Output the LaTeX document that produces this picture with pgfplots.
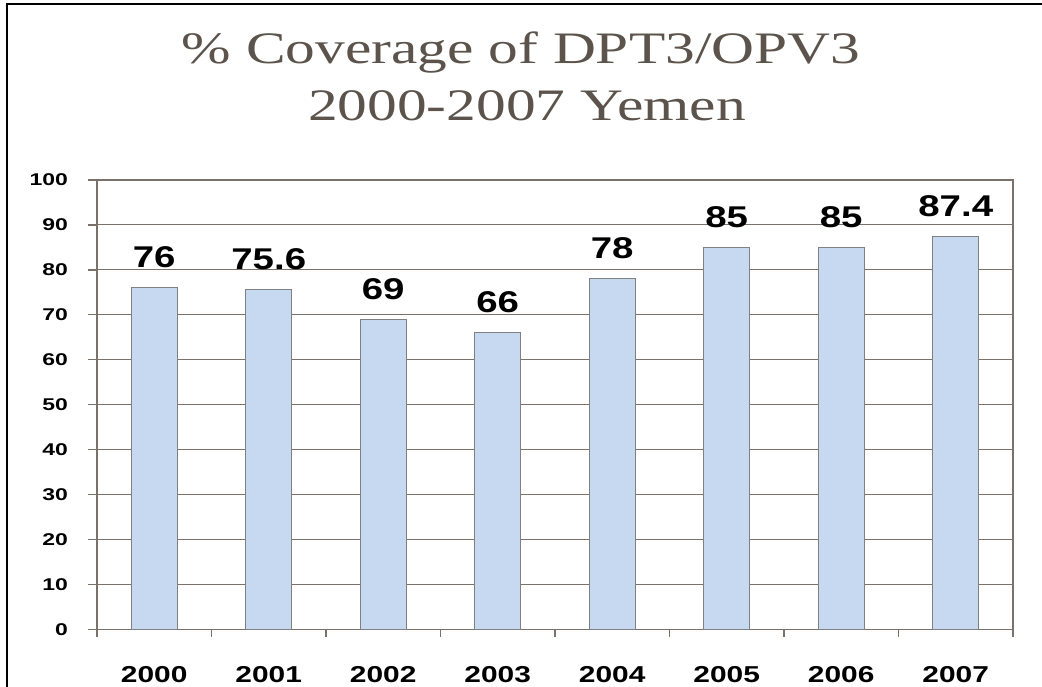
\documentclass[border=0pt]{standalone}
\usepackage{graphicx}
\usepackage{pgfplots}
\pgfplotsset{compat=1.18}
\usepackage{fontspec}
\setmainfont{Liberation Sans}
\newfontfamily\titlefont{Liberation Serif}
\definecolor{titlec}{RGB}{92,84,76}
\definecolor{gridc}{RGB}{122,114,106}
\definecolor{barfill}{RGB}{198,217,240}
\definecolor{barline}{RGB}{128,128,128}

\begin{document}
\begin{tikzpicture}
\useasboundingbox (0pt,0pt) rectangle (1042pt,-686pt);
\fill[white] (0pt,0pt) rectangle (1042pt,-686pt);
\draw[line width=2.5pt] (7pt,-700pt) -- (7pt,-4pt) -- (1050pt,-4pt);
\node[font=\titlefont\fontsize{45}{50}\selectfont, text=titlec, anchor=base] at (521pt,-63pt) {\scalebox{1.32}[1]{\% Coverage of DPT3/OPV3}};
\node[font=\titlefont\fontsize{45}{50}\selectfont, text=titlec, anchor=base] at (527pt,-120pt) {\scalebox{1.32}[1]{2000-2007 Yemen}};
\begin{axis}[
  at={(97pt,-629.5pt)}, anchor=south west,
  scale only axis, width=916pt, height=449.5pt,
  xmin=-0.5, xmax=7.5, ymin=0, ymax=100,
  ytick={0,10,...,100},
  xtick={0,...,7},
  xticklabels={\scalebox{1.3}[1]{2000},\scalebox{1.3}[1]{2001},\scalebox{1.3}[1]{2002},\scalebox{1.3}[1]{2003},\scalebox{1.3}[1]{2004},\scalebox{1.3}[1]{2005},\scalebox{1.3}[1]{2006},\scalebox{1.3}[1]{2007}},
  minor xtick={-0.5,0.5,...,7.5},
  major x tick style={draw=none},
  xtick pos=left, ytick pos=left,
  tick align=outside,
  major tick length=9pt, minor tick length=7pt,
  ymajorgrids,
  grid style={gridc, line width=1pt},
  axis line style={gridc, line width=1.2pt},
  tick style={gridc, line width=1.2pt},
  /pgf/number format/assume math mode=true,
  yticklabel={\scalebox{1.35}[1]{\pgfmathprintnumber{\tick}}},
  yticklabel style={font=\bfseries\fontsize{17}{19}\selectfont, anchor=east, inner sep=0pt, xshift=-20pt},
  xticklabel style={font=\bfseries\fontsize{23}{26}\selectfont, anchor=base, inner sep=0pt, yshift=-43.5pt},
]
\addplot[ybar, bar width=46pt, fill=barfill, draw=barline, line width=1.2pt,
  nodes near coords={\scalebox{1.28}[1]{\pgfmathprintnumber{\pgfplotspointmeta}}},
  every node near coord/.append style={font=\bfseries\fontsize{30}{32}\selectfont, text=black, anchor=base, inner sep=0pt, yshift=20pt}]
  coordinates {(0,76) (1,75.6) (2,69) (3,66) (4,78) (5,85) (6,85) (7,87.4)};
\end{axis}
\end{tikzpicture}
\end{document}
